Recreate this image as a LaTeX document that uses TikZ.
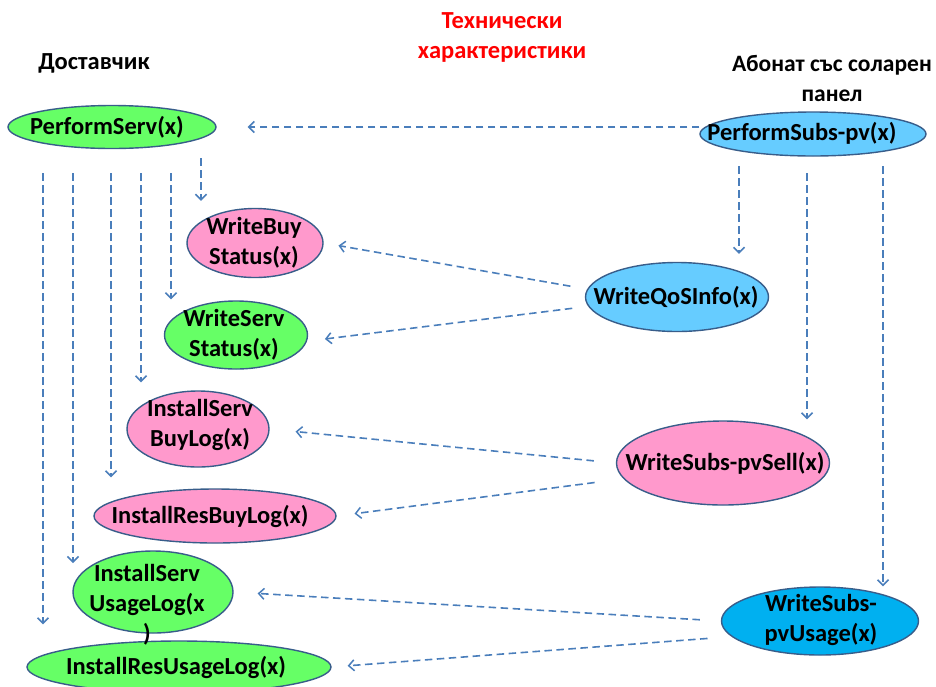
\documentclass[tikz,border=0pt]{standalone}
\usepackage{fontspec}
\setmainfont{Carlito}
\usetikzlibrary{shapes.geometric,arrows.meta,calc}
\definecolor{gr}{HTML}{66FF66}
\definecolor{pk}{HTML}{FF99CC}
\definecolor{lb}{HTML}{66CCFF}
\definecolor{db}{HTML}{00B0F0}
\definecolor{edge}{HTML}{385D8A}
\definecolor{arr}{HTML}{4A7EBB}
\begin{document}
\begin{tikzpicture}[x=1pt,y=-1pt,
  el/.style={ellipse,draw=edge,line width=1.4pt,inner sep=0pt},
  lbl/.style={font=\fontsize{24.5}{30}\selectfont\bfseries,align=center,inner sep=0pt},
  dl/.style={draw=arr,line width=1.6pt,dash pattern=on 7.5pt off 4.5pt,
    -{Straight Barb[length=5.5pt,width=11pt,line width=1.5pt]}}
]
\useasboundingbox (0,0) rectangle (936,686);

% headings
\node[lbl,text=red] (title) at (502,37) {Технически\\характеристики};
\node[lbl] (prov) at (94,63) {Доставчик};
\node[lbl,font=\fontsize{23.5}{30}\selectfont\bfseries] (subs) at (832,78) {Абонат със соларен\\панел};

% ellipses
\node[el,fill=gr,minimum width=208pt,minimum height=43pt] (ps) at (112,127) {};
\node[el,fill=lb,minimum width=226pt,minimum height=44pt] (pss) at (813,134) {};
\node[el,fill=pk,minimum width=136pt,minimum height=69pt] (wbs) at (255,243) {};
\node[el,fill=gr,minimum width=143pt,minimum height=68pt] (wss) at (236,335) {};
\node[el,fill=pk,minimum width=142pt,minimum height=76pt] (isbl) at (198,429) {};
\node[el,fill=lb,minimum width=183pt,minimum height=69pt] (qos) at (677,297) {};
\node[el,fill=pk,minimum width=213pt,minimum height=84pt] (pvsell) at (723,463) {};
\node[el,fill=pk,minimum width=242pt,minimum height=54pt] (irbl) at (215,516) {};
\node[el,fill=gr,minimum width=160pt,minimum height=82pt] (isul) at (153,592) {};
\node[el,fill=gr,minimum width=304pt,minimum height=52pt] (irul) at (179,667) {};
\node[el,fill=db,minimum width=197pt,minimum height=68pt] (pvu) at (820,621) {};

% labels
\node[lbl] (psT) at (107,127) {PerformServ(x)};
\node[lbl] (pssT) at (802,133) {PerformSubs-pv(x)};
\node[lbl] (wbsT) at (254,243) {WriteBuy\\Status(x)};
\node[lbl] (wssT) at (234,335) {WriteServ\\Status(x)};
\node[lbl] (isblT) at (200,425) {InstallServ\\BuyLog(x)};
\node[lbl] (qosT) at (676,297) {WriteQoSInfo(x)};
\node[lbl] (pvsellT) at (725,463) {WriteSubs-pvSell(x)};
\node[lbl] (irblT) at (210,516) {InstallResBuyLog(x)};
\node[lbl] (isulT) at (147,605) {InstallServ\\UsageLog(x\\)};
\node[lbl] (irulT) at (176,667) {InstallResUsageLog(x)};
\node[lbl] (pvuT) at (821,620) {WriteSubs-\\pvUsage(x)};

% horizontal
\draw[dl,shorten >=31pt] (pss.west |- ps.east) -- (ps.east);

% verticals from PerformServ
\coordinate (d1) at (43,173);
\coordinate (d2) at (73,173);
\coordinate (d3) at (111,173);
\coordinate (d4) at (141,173);
\coordinate (d5) at (171,173);
\coordinate (d6) at (201,158);
\draw[dl,shorten >=7pt] (d6) -- (d6 |- wbs.north);
\draw[dl,shorten >=1pt] (d5) -- (d5 |- wss.north);
\draw[dl,shorten >=8pt] (d4) -- (d4 |- isbl.north);
\draw[dl,shorten >=11pt] (d3) -- (d3 |- irbl.north);
\draw[dl,shorten >=29pt] (d2) -- (d2 |- isul.west);
\draw[dl,shorten >=16pt] (d1) -- (d1 |- irul.north);

% verticals from PerformSubs-pv
\coordinate (e1) at (739,166);
\coordinate (e2) at (807,173);
\coordinate (e3) at (883,166);
\draw[dl,shorten >=8pt] (e1) -- (e1 |- qos.north);
\draw[dl,shorten >=1pt] (e2) -- (e2 |- pvsell.north);
\draw[dl] (e3) -- (e3 |- pvu.north);

% diagonals
\draw[dl,shorten <=17pt,shorten >=15pt] (qos.175) -- (wbs.east);
\draw[dl,shorten <=16pt,shorten >=18pt] (qos.186) -- (wss.355);
\draw[dl,shorten <=22pt,shorten >=26pt] (pvsell.west) -- (isbl.east);
\draw[dl,shorten <=29pt,shorten >=18pt] (pvsell.189) -- (irbl.east);
\draw[dl,shorten <=21pt,shorten >=24pt] (pvu.west) -- (isul.east);
\draw[dl,shorten <=24pt,shorten >=16pt] (pvu.190) -- (irul.east);
\end{tikzpicture}
\end{document}
